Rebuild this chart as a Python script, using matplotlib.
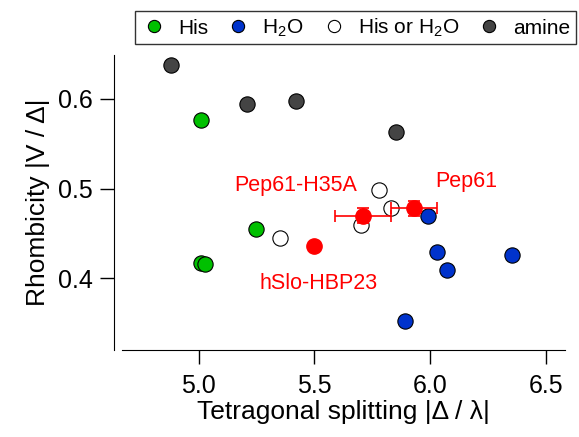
import matplotlib
matplotlib.use("Agg")
import matplotlib.pyplot as plt

plt.rcParams['font.family'] = ['Liberation Sans', 'DejaVu Sans']
plt.rcParams['mathtext.fontset'] = 'custom'
plt.rcParams['mathtext.rm'] = 'Liberation Sans'

# ligand classes: tetragonal splitting (x) vs rhombicity (y)
his_x = [5.01, 5.25, 5.01, 5.03]
his_y = [0.577, 0.455, 0.417, 0.416]

h2o_x = [5.99, 6.03, 6.07, 6.35, 5.89]
h2o_y = [0.469, 0.429, 0.409, 0.426, 0.352]

his_or_h2o_x = [5.35, 5.70, 5.78, 5.83]
his_or_h2o_y = [0.445, 0.460, 0.498, 0.478]

amine_x = [4.88, 5.21, 5.42, 5.85]
amine_y = [0.638, 0.594, 0.598, 0.563]

# peptides measured here
pep_names = ["hSlo-HBP23", "Pep61-H35A", "Pep61"]
pep_x = [5.50, 5.71, 5.93]
pep_y = [0.436, 0.470, 0.478]
pep_xerr = [0.0, 0.12, 0.10]
pep_yerr = [0.0, 0.008, 0.008]

fig = plt.figure(figsize=(5.79, 4.37), dpi=100)
ax = fig.add_axes([0.2107, 0.199, 0.765, 0.675])

ms = 11
ax.plot(his_x, his_y, 'o', ms=ms, mfc='#00c000', mec='black', mew=0.8, label='His', zorder=3)
ax.plot(h2o_x, h2o_y, 'o', ms=ms, mfc='#0033cc', mec='black', mew=0.8, label='H$_2$O', zorder=3)
ax.plot(his_or_h2o_x, his_or_h2o_y, 'o', ms=ms, mfc='white', mec='black', mew=0.8,
        label='His or H$_2$O', zorder=3)
ax.plot(amine_x, amine_y, 'o', ms=ms, mfc='#444444', mec='black', mew=0.8, label='amine', zorder=3)

ax.errorbar(pep_x, pep_y, xerr=pep_xerr, yerr=pep_yerr, fmt='o', ms=ms, mfc='red', mec='red',
            ecolor='red', elinewidth=1.2, capsize=4, capthick=1.2, zorder=4)

ax.text(5.517, 0.394, pep_names[0], color='red', fontsize=15.5, ha='center', va='center')
ax.text(5.418, 0.504, pep_names[1], color='red', fontsize=15.5, ha='center', va='center')
ax.text(6.155, 0.508, pep_names[2], color='red', fontsize=15.5, ha='center', va='center')

ax.set_xlim(4.67, 6.58)
ax.set_ylim(0.32, 0.649)
ax.set_xticks([5.0, 5.5, 6.0, 6.5])
ax.set_yticks([0.4, 0.5, 0.6])
ax.set_xticklabels(["5.0", "5.5", "6.0", "6.5"])
ax.set_yticklabels(["0.4", "0.5", "0.6"])

ax.spines['top'].set_visible(False)
ax.spines['right'].set_visible(False)
ax.spines['left'].set_position(('outward', 6))
ax.tick_params(direction='out', length=10, width=1, labelsize=18)
ax.tick_params(axis='x', pad=7)
ax.tick_params(axis='y', pad=5)

ax.set_xlabel("Tetragonal splitting |\u0394 / \u03bb|", fontsize=19, labelpad=2)
ax.set_ylabel("Rhombicity |V / \u0394|", fontsize=19, labelpad=6)

leg = fig.legend(loc='center', bbox_to_anchor=(0.614, 0.936), ncol=4, fontsize=15,
                 frameon=True, fancybox=False, edgecolor='black', handletextpad=0.5,
                 columnspacing=0.8, borderpad=0.25, handlelength=1.3, markerscale=0.8)
leg.get_frame().set_linewidth(1)

fig.savefig("out.png", dpi=100)
